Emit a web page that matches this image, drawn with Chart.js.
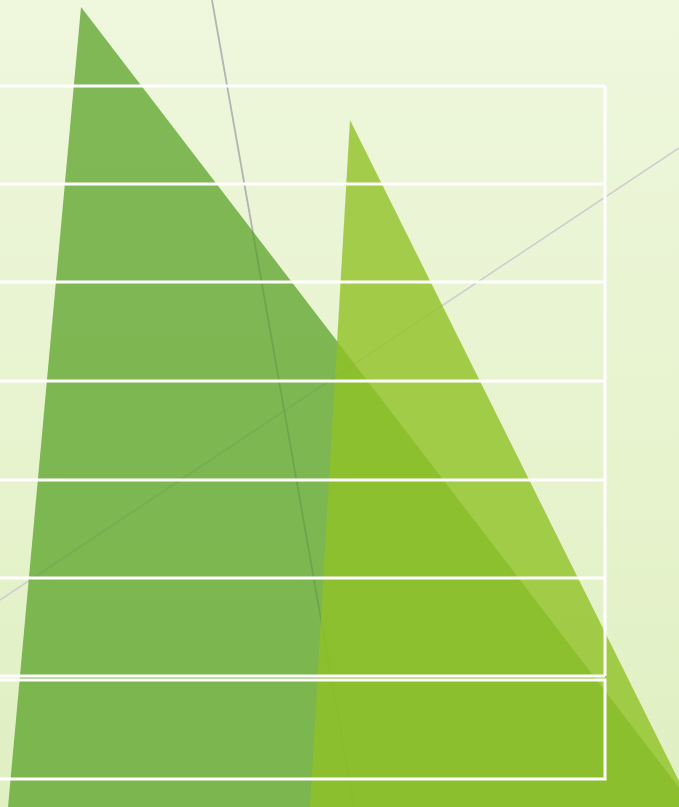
<!DOCTYPE html>
<html>
<head>
<meta charset="utf-8">
<script src="https://cdn.jsdelivr.net/npm/chart.js@4/dist/chart.umd.min.js"></script>
<style>
    html, body { margin: 0; padding: 0; overflow: hidden; }
    canvas { display: block; }
</style>
</head>
<body>
<canvas id="slide" width="679" height="807"></canvas>
<script>
// Shapes, in slide units (x: 0-679, y: 0-807 from the top).
const darkTriangle = [[8, 807], [81, 7], [694, 807]];
const lightTriangle = [[310, 807], [350, 120], [692, 807]];
const steepLine = [[212, 0], [354, 807]];
const shallowLine = [[0, 600], [679, 148]];

// The white table: left edge runs off the slide.
const tableLeft = -10;
const tableRight = 605;
const tableRows = [86, 184, 282, 381, 480, 578, 676];
const lowerBox = [680, 779];

const toPoints = pts => pts.map(p => ({x: p[0], y: p[1]}));

// Background gradient behind everything.
const slideBackground = {
    id: "slideBackground",
    beforeDraw(chart) {
        const {ctx, width, height} = chart;
        const grad = ctx.createLinearGradient(0, 0, 0, height);
        grad.addColorStop(0, "#eff7dd");
        grad.addColorStop(1, "#e0f0c2");
        ctx.save();
        ctx.fillStyle = grad;
        ctx.fillRect(0, 0, width, height);
        ctx.restore();
    }
};

function whiteLine(points) {
    return {
        data: toPoints(points),
        showLine: true,
        borderColor: "#ffffff",
        borderWidth: 3,
        pointRadius: 0,
        fill: false,
        order: 1,
    };
}

const datasets = [
    {
        data: toPoints(steepLine),
        showLine: true,
        borderColor: "#b3b3b3",
        borderWidth: 1.8,
        pointRadius: 0,
        fill: false,
        order: 6,
    },
    {
        data: toPoints(shallowLine),
        showLine: true,
        borderColor: "#d0d0d0",
        borderWidth: 1.8,
        pointRadius: 0,
        fill: false,
        order: 6,
    },
    {
        data: toPoints(darkTriangle),
        showLine: true,
        borderWidth: 0,
        borderColor: "rgba(0,0,0,0)",
        backgroundColor: "rgba(84,160,33,0.72)",
        pointRadius: 0,
        fill: "start",
        order: 5,
    },
    {
        data: toPoints(lightTriangle),
        showLine: true,
        borderWidth: 0,
        borderColor: "rgba(0,0,0,0)",
        backgroundColor: "rgba(144,194,38,0.8)",
        pointRadius: 0,
        fill: "start",
        order: 4,
    },
];

// Top and bottom edges of each table row, then the right side.
for (const y of tableRows) {
    datasets.push(whiteLine([[tableLeft, y], [tableRight, y]]));
}
datasets.push(whiteLine([[tableRight, tableRows[0]], [tableRight, tableRows[tableRows.length - 1]]]));
datasets.push(whiteLine([[tableLeft, lowerBox[0]], [tableRight, lowerBox[0]], [tableRight, lowerBox[1]], [tableLeft, lowerBox[1]]]));

new Chart(document.getElementById("slide"), {
    type: "scatter",
    data: {datasets: datasets},
    options: {
        responsive: false,
        animation: false,
        layout: {padding: 0},
        scales: {
            x: {type: "linear", min: 0, max: 679, display: false},
            y: {type: "linear", min: 0, max: 807, reverse: true, display: false},
        },
        plugins: {
            legend: {display: false},
            tooltip: {enabled: false},
        },
    },
    plugins: [slideBackground],
});
</script>
</body>
</html>
